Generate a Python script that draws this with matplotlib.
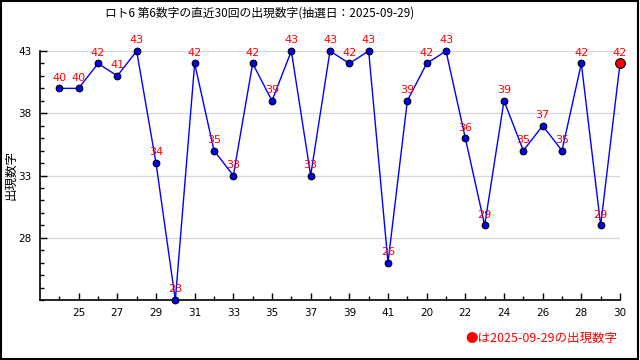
import matplotlib
matplotlib.use("Agg")
import matplotlib.pyplot as plt
from matplotlib.patches import Rectangle

plt.rcParams['font.family'] = ['Noto Sans CJK JP', 'DejaVu Sans']

# 直近30回の第6数字
rounds = list(range(1, 31))
values = [40, 40, 42, 41, 43, 34, 23, 42, 35, 33,
          42, 39, 43, 33, 43, 42, 43, 26, 39, 42,
          43, 36, 29, 39, 35, 37, 35, 42, 29, 42]
tick_pos = list(range(2, 31, 2))
tick_labels = ['25', '27', '29', '31', '33', '35', '37', '39', '41',
               '20', '22', '24', '26', '28', '30']
y_ticks = [28, 33, 38, 43]
title = 'ロト6 第6数字の直近30回の出現数字(抽選日：2025-09-29)'
note = '●は2025-09-29の出現数字'

fig = plt.figure(figsize=(6.4, 3.6), dpi=100)
ax = fig.add_axes([40 / 640, 60 / 360, 580 / 640, 249 / 360])

ax.set_xlim(0, 30)
ax.set_ylim(23, 43)
for y in y_ticks:
    ax.axhline(y, color='#d8d8d8', lw=1, zorder=0)

ax.plot(rounds, values, color='#0000ff', lw=1, zorder=2, clip_on=False)
ax.plot(rounds[:-1], values[:-1], 'o', color='#0000ff', mec='black', mew=0.8,
        ms=4.8, zorder=3, clip_on=False)
ax.plot(rounds[-1:], values[-1:], 'o', color='#ff0000', mec='black', mew=0.8,
        ms=7, zorder=4, clip_on=False)
for x, v in zip(rounds, values):
    ax.annotate(str(v), (x, v), xytext=(0, 4), textcoords='offset points',
                ha='center', va='bottom', color='#ff0000', fontsize=8,
                family='DejaVu Sans', zorder=5, annotation_clip=False)

ax.set_xticks(tick_pos)
ax.set_xticklabels(tick_labels, fontsize=7.5, family='DejaVu Sans')
ax.set_xticks(rounds, minor=True)
ax.set_yticks(y_ticks)
ax.set_yticklabels([str(t) for t in y_ticks], fontsize=7.5, family='DejaVu Sans')
ax.set_yticks(range(23, 44), minor=True)
ax.tick_params(which='major', direction='in', length=5, width=1, pad=6)
ax.tick_params(which='minor', direction='in', length=3, width=1)

ax.spines['top'].set_visible(False)
ax.spines['right'].set_visible(False)
ax.spines['left'].set_linewidth(1.2)
ax.spines['bottom'].set_linewidth(1.2)

fig.text(11 / 640, 1 - 175 / 360, '出現数字', rotation=90, ha='center', va='center',
         fontsize=9)
fig.text(260 / 640, 1 - 13 / 360, title, ha='center', va='center', fontsize=8.5)
fig.text(617 / 640, 1 - 338 / 360, note, ha='right', va='center',
         color='#ff0000', fontsize=9)

fig.patches.append(Rectangle((0.001, 0.002), 0.996, 0.995, transform=fig.transFigure,
                             fill=False, edgecolor='black', lw=1.5))

fig.savefig('out.png', dpi=100)
